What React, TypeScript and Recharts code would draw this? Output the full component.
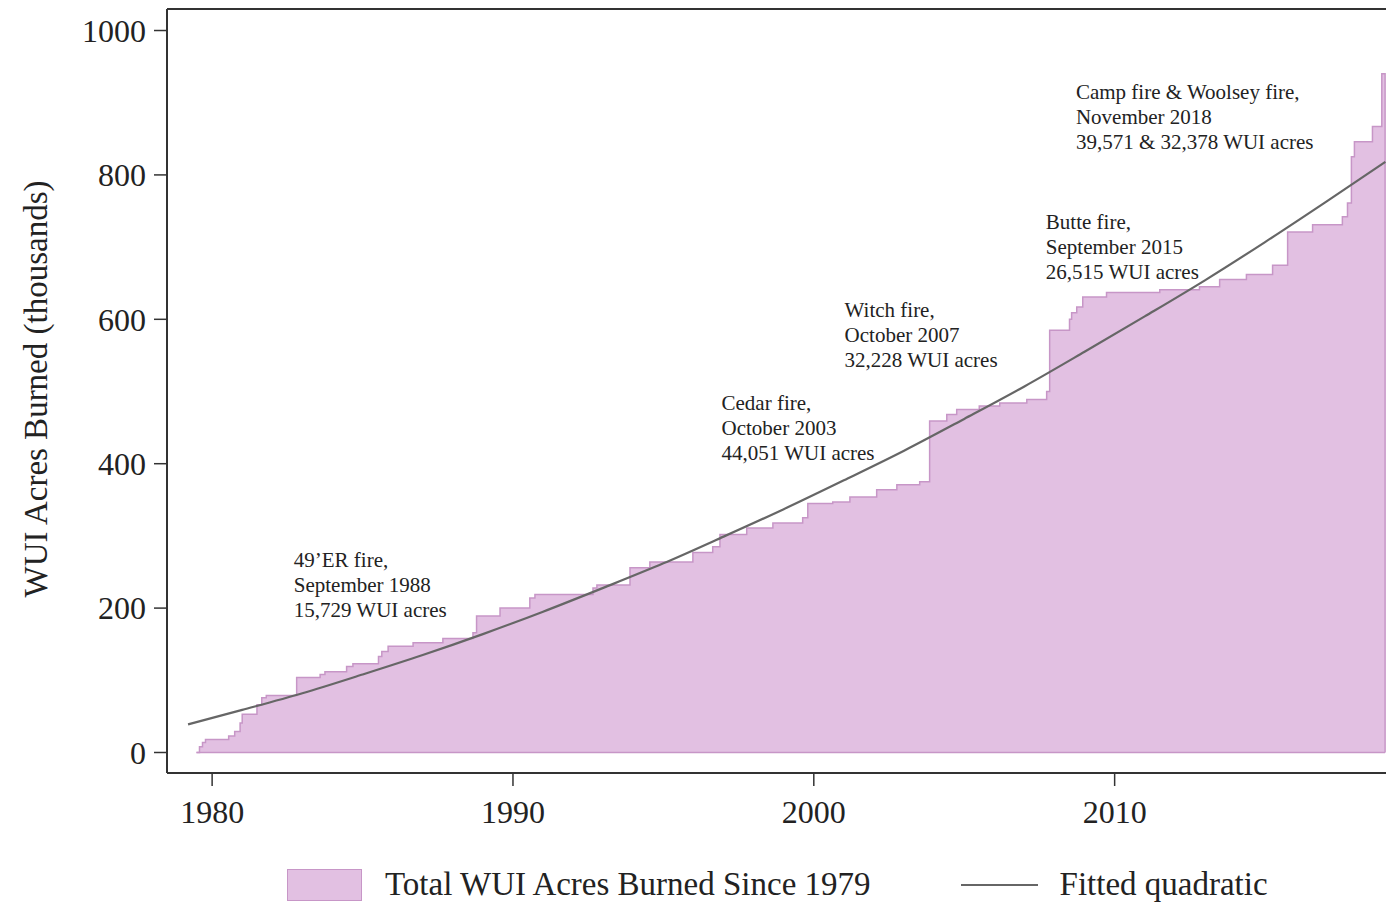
import React from "react";
import { ComposedChart, Area, Line, XAxis, YAxis, ReferenceLine, ReferenceDot } from "recharts";

// cumulative WUI acres burned (thousands)
const stepYears = [
  1979.48, 1979.58, 1979.68, 1979.78, 1980.55, 1980.75, 1980.93, 1981.0, 1981.49, 1981.65,
  1981.8, 1982.81, 1983.59, 1983.75, 1984.47, 1984.68, 1985.53, 1985.64, 1985.85, 1986.68,
  1987.67, 1988.67, 1988.79, 1989.57, 1990.56, 1990.73, 1992.66, 1992.79, 1993.89, 1994.55,
  1995.98, 1996.64, 1996.88, 1997.77, 1998.64, 1999.63, 1999.8, 2000.63, 2001.2, 2002.09,
  2002.76, 2003.52, 2003.85, 2004.42, 2004.75, 2005.5, 2006.18, 2007.08, 2007.74, 2007.84,
  2008.5, 2008.57, 2008.74, 2008.94, 2009.73, 2011.5, 2012.82, 2013.49, 2014.38, 2015.25,
  2015.75, 2016.58, 2017.57, 2017.74, 2017.87, 2017.97, 2018.57, 2018.88, 2018.99,
];
const stepTotals = [
  0, 8, 14, 18, 23, 29, 41, 53, 66, 76,
  79, 104, 108, 112, 119, 123, 133, 140, 147, 152,
  158, 166, 189, 200, 214, 219, 228, 232, 256, 264,
  277, 285, 302, 311, 318, 325, 345, 347, 354, 364,
  371, 375, 459, 468, 475, 480, 484, 489, 500, 585,
  600, 609, 617, 631, 637, 641, 645, 655, 662, 675,
  721, 731, 742, 761, 825, 846, 867, 940, 0,
];

// fitted quadratic, read at two-year steps
const fitYears = [
  1979.2, 1981, 1983, 1985, 1987, 1989, 1991, 1993, 1995, 1997, 1999,
  2001, 2003, 2005, 2007, 2009, 2011, 2013, 2015, 2017, 2019,
];
const fitValues = [
  39, 59, 82, 108, 135, 164, 195, 228, 262, 299, 337,
  377, 418, 462, 507, 555, 604, 654, 707, 762, 818,
];

const xTicks = [1980, 1990, 2000, 2010];
const yTicks = [0, 200, 400, 600, 800, 1000];

const noteYears = [1982.73, 1996.95, 2001.04, 2007.73, 2008.73];
const noteValues = [256, 473, 602, 725, 904];
const noteLines = [
  ["49’ER fire,", "September 1988", "15,729 WUI acres"],
  ["Cedar fire,", "October 2003", "44,051 WUI acres"],
  ["Witch fire,", "October 2007", "32,228 WUI acres"],
  ["Butte fire,", "September 2015", "26,515 WUI acres"],
  ["Camp fire & Woolsey fire,", "November 2018", "39,571 & 32,378 WUI acres"],
];

const serif = '"Liberation Serif", "Times New Roman", serif';
const fillColor = "#e2c0e2";
const edgeColor = "#c796c7";
const fitColor = "#666";
const axisColor = "#333";

const stepData = stepYears.map((year, i) => ({ year, total: stepTotals[i] }));
const fitData = fitYears.map((year, i) => ({ year, fit: fitValues[i] }));

const xDomain = [1978.5, 2019.02];
const yDomain = [-28.4, 1029.8];

function noteLabel(lines: string[]) {
  return (props: any) => {
    const vb = props.viewBox || {};
    return (
      <text x={vb.x} y={vb.y} fontFamily={serif} fontSize={21} fill="#222">
        {lines.map((l, i) => (
          <tspan key={i} x={vb.x} dy={i === 0 ? 0 : 25}>
            {l}
          </tspan>
        ))}
      </text>
    );
  };
}

function YTitle(props: any) {
  const vb = props.viewBox || { x: 0, y: 0, height: 0 };
  const cx = vb.x + 36;
  const cy = vb.y + vb.height / 2 - 2;
  return (
    <text
      x={cx}
      y={cy}
      transform={`rotate(-90 ${cx} ${cy})`}
      textAnchor="middle"
      dominantBaseline="central"
      fontFamily={serif}
      fontSize={33}
      fill="#222"
    >
      WUI Acres Burned (thousands)
    </text>
  );
}

export default function App() {
  const tickStyle = { fontFamily: serif, fontSize: 32, fill: "#222" };
  return (
    <div style={{ position: "absolute", left: 0, top: 0, width: 1386, height: 904, overflow: "hidden", background: "#fff" }}>
      <ComposedChart width={1386} height={904} margin={{ top: 9, right: 0, bottom: 0, left: 0 }}>
        <XAxis
          dataKey="year"
          type="number"
          domain={xDomain}
          ticks={xTicks}
          allowDataOverflow
          height={131}
          tickSize={13}
          tickMargin={14}
          tick={tickStyle}
          axisLine={{ stroke: axisColor, strokeWidth: 2 }}
          tickLine={{ stroke: axisColor, strokeWidth: 1.5 }}
        />
        <YAxis
          type="number"
          domain={yDomain}
          ticks={yTicks}
          allowDataOverflow
          width={167}
          tickSize={13}
          tickMargin={8}
          tick={tickStyle}
          axisLine={{ stroke: axisColor, strokeWidth: 2 }}
          tickLine={{ stroke: axisColor, strokeWidth: 1.5 }}
          label={{ content: YTitle }}
        />
        <ReferenceLine y={yDomain[1]} stroke={axisColor} strokeWidth={2} />
        <Area
          type="stepAfter"
          data={stepData}
          dataKey="total"
          fill={fillColor}
          fillOpacity={1}
          stroke={edgeColor}
          strokeWidth={1.5}
          isAnimationActive={false}
        />
        <ReferenceLine
          segment={[
            { x: stepYears[0], y: 0 },
            { x: stepYears[stepYears.length - 1], y: 0 },
          ]}
          stroke={edgeColor}
          strokeWidth={1.5}
        />
        <Line
          type="monotone"
          data={fitData}
          dataKey="fit"
          stroke={fitColor}
          strokeWidth={2.2}
          dot={false}
          activeDot={false}
          isAnimationActive={false}
        />
        {noteYears.map((yr, i) => (
          <ReferenceDot
            key={i}
            x={yr}
            y={noteValues[i]}
            r={0.5}
            fill="none"
            stroke="none"
            label={{ content: noteLabel(noteLines[i]) }}
          />
        ))}
      </ComposedChart>
      <div
        style={{
          position: "absolute",
          left: 287,
          top: 866,
          display: "flex",
          alignItems: "center",
          fontFamily: serif,
          fontSize: 33,
          color: "#222",
          whiteSpace: "nowrap",
        }}
      >
        <span style={{ width: 73, height: 30, background: fillColor, border: `1.5px solid ${edgeColor}`, display: "inline-block" }} />
        <span style={{ marginLeft: 23 }}>Total WUI Acres Burned Since 1979</span>
        <span style={{ width: 77, height: 0, borderTop: `2px solid ${fitColor}`, display: "inline-block", marginLeft: 90 }} />
        <span style={{ marginLeft: 22 }}>Fitted quadratic</span>
      </div>
    </div>
  );
}
